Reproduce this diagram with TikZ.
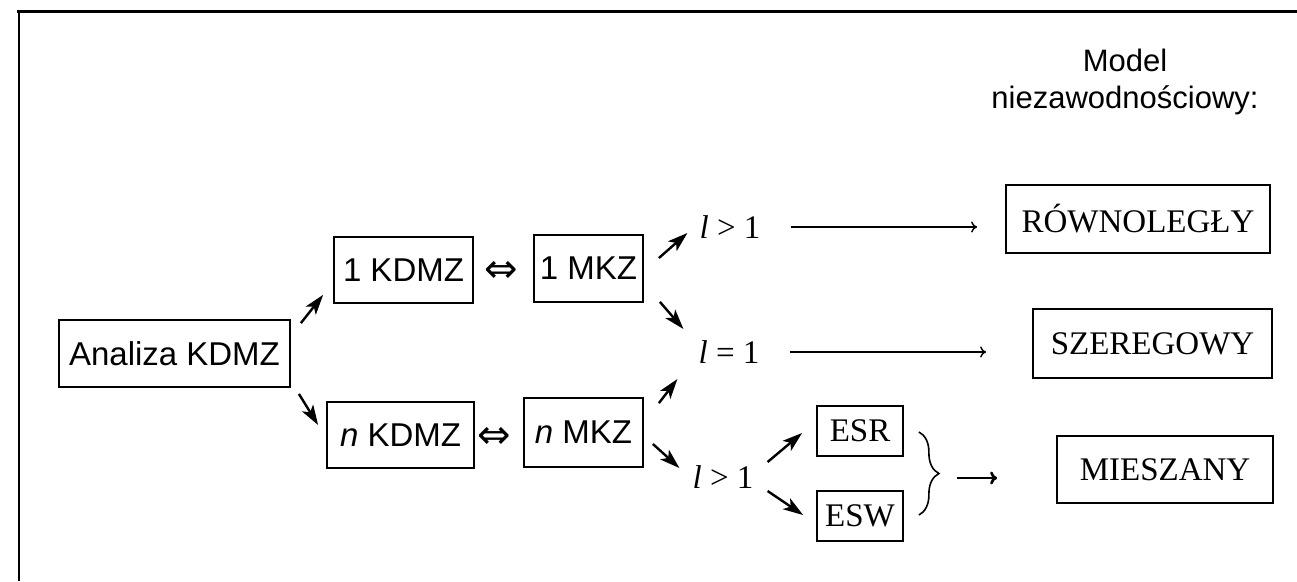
\documentclass[tikz,border=0pt]{standalone}
\usepackage{fontspec}
\setmainfont{Liberation Serif}
\newfontfamily\sansf{Liberation Sans}
\newfontfamily\symf{DejaVu Sans}
\usetikzlibrary{arrows.meta,decorations.pathreplacing,calc}
\begin{document}
\begin{tikzpicture}[x=1pt,y=-1pt,
  box/.style={draw,line width=1.8pt,inner sep=0pt,minimum height=67pt},
  sbox/.style={box,font=\sansf\fontsize{33}{38}\selectfont},
  rbox/.style={box,font=\fontsize{33}{38}\selectfont},
  lab/.style={inner sep=0pt,font=\fontsize{33}{36}\selectfont},
  eqv/.style={inner sep=0pt,font=\symf\fontsize{40}{40}\selectfont},
  sarr/.style={line width=2.4pt,-{Stealth[length=20pt,width=13pt,inset=5pt]}},
  larr/.style={line width=1.4pt,-{To[length=6pt,width=11pt]}},
  barr/.style={line width=2.6pt,-{To[length=7pt,width=13pt]}},
]
\useasboundingbox (0,0) rectangle (1297,581);
% frame
\draw[line width=2pt] (19,581) -- (19,11);
\draw[line width=3pt] (17,11) -- (1297,11);

% title
\node[align=center,inner sep=0pt,font=\sansf\fontsize{31}{37}\selectfont] (T) at (1125,82) {Model\\niezawodnościowy:};

% boxes
\node[sbox,minimum width=231pt] (A) at (174.5,353.5) {Analiza KDMZ};
\node[sbox,minimum width=139pt,minimum height=66pt] (K1) at (403.5,270) {1 KDMZ};
\node[sbox,minimum width=109pt] (M1) at (588.5,268.5) {1 MKZ};
\node[sbox,minimum width=147pt,minimum height=66pt] (Kn) at (400.5,435) {\textit{n} KDMZ};
\node[sbox,minimum width=119pt,minimum height=69pt] (Mn) at (583.5,432.5) {\textit{n} MKZ};
\node[eqv] (E1) at (501,272) {⇔};
\node[eqv] (E2) at (494.5,438) {⇔};

\node[lab] (L1) at (730,227) {\textit{l} > 1};
\node[lab] (L2) at (729,352) {\textit{l} = 1};
\node[lab] (L3) at (723,477) {\textit{l} > 1};

\node[rbox,minimum width=86pt,minimum height=50pt] (ESR) at (860,431) {ESR};
\node[rbox,minimum width=86pt,minimum height=50pt] (ESW) at (860,516) {ESW};

\node[rbox,minimum width=264pt,minimum height=68pt] (R) at (1138,219) {RÓWNOLEGŁY};
\node[rbox,minimum width=239pt,minimum height=69pt] (S) at (1152.5,343.5) {SZEREGOWY};
\node[rbox,minimum width=216pt] (Mi) at (1165,469.5) {MIESZANY};

% short thick arrows
\draw[sarr] ([shift={(10,4)}]A.north east) -- ([shift={(-10,-9)}]K1.south west);
\draw[sarr] ([shift={(8,6)}]A.south east) -- ([shift={(-8,-10)}]Kn.west);
\draw[sarr] ([shift={(15,-10.5)}]M1.east) -- ([shift={(-12,6)}]L1.west);
\draw[sarr] ([shift={(16,-1)}]M1.south east) -- ([shift={(-15,-23)}]L2.west);
\draw[sarr] ([shift={(15,6)}]Mn.north east) -- ([shift={(-21,27)}]L2.west);
\draw[sarr] ([shift={(9,11.5)}]Mn.east) -- ([shift={(-13,-9)}]L3.west);
\draw[sarr] ([shift={(14,-15)}]L3.east) -- ([shift={(-14,2)}]ESR.west);
\draw[sarr] ([shift={(14,14)}]L3.east) -- ([shift={(-13,-1)}]ESW.west);

% long arrows
\draw[larr] ($(L1.east)+(30,0)$) -- ($(L1.east -| R.west)+(-28,0)$);
\draw[larr] ($(L2.east)+(30,0)$) -- ($(L2.east -| S.west)+(-46,0)$);

% brace and arrow
\draw[line width=1.6pt,decorate,decoration={brace,amplitude=20pt}]
  ([shift={(15,1)}]ESR.east) -- ([shift={(15,-1)}]ESW.east);
\coordinate (bt) at (957,478);
\draw[barr] (bt) -- ($(bt -| Mi.west)+(-59,0)$);
\end{tikzpicture}
\end{document}
